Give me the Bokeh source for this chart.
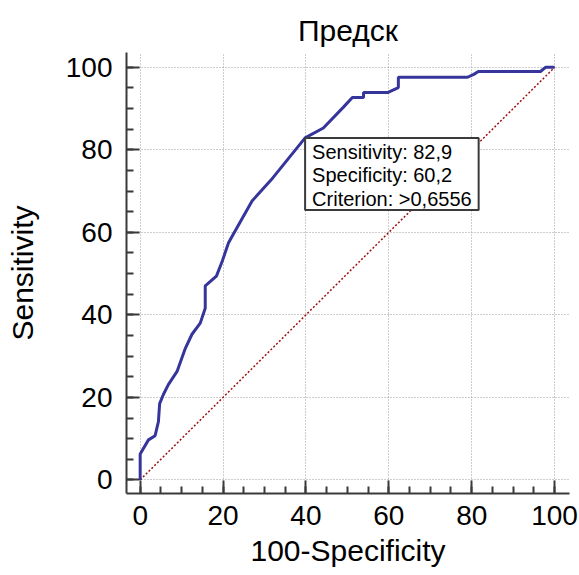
from bokeh.plotting import figure
from bokeh.models import Label, Range1d, FixedTicker
from bokeh.embed import file_html
from bokeh.resources import INLINE

# ROC curve (100-Specificity vs Sensitivity)
fpr = [0, 0, 2.0, 3.6, 4.4, 4.7, 5.6, 6.8, 8.9, 10.9, 12.5, 14.5, 15.7, 15.7,
       18.4, 19.8, 21.3, 22.5, 27.0, 32.0, 39.8, 44.2, 49.0, 51.2, 53.9, 53.9,
       59.7, 62.3, 62.3, 79.0, 80.5, 81.6, 96.6, 97.8, 100]
tpr = [0, 6.3, 9.7, 10.7, 14.1, 18.5, 20.7, 23.1, 26.3, 31.9, 35.3, 38.0, 41.6, 47.0,
       49.4, 53.0, 57.4, 59.6, 67.6, 73.2, 82.9, 85.3, 90.3, 92.7, 92.7, 93.9,
       93.9, 95.1, 97.6, 97.6, 98.3, 99.0, 99.0, 100, 100]
diag_x = [0, 100]
diag_y = [0, 100]
ticks = [0, 20, 40, 60, 80, 100]
crit_sens = 82.9
crit_spec = 60.2
crit_label = ">0,6556"
x_title = "100-Specificity"
y_title = "Sensitivity"

FONT = "Liberation Sans"
XMIN, XMAX = -3.3, 103.6

p = figure(width=579, height=575, output_backend="svg", toolbar_location=None,
           x_range=Range1d(XMIN, XMAX), y_range=Range1d(XMIN, XMAX),
           min_border_left=126, min_border_top=52, min_border_right=10, min_border_bottom=82)
p.outline_line_color = None
p.background_fill_color = "white"

p.title.text = "Предск"
p.title.align = "center"
p.title.vertical_align = "top"
p.title.text_font = FONT
p.title.text_font_size = "30px"
p.title.text_font_style = "normal"
p.title.text_color = "black"
p.title.standoff = 8

for ax in (p.xaxis[0], p.yaxis[0]):
    ax.ticker = FixedTicker(ticks=ticks, minor_ticks=list(range(0, 101, 5)))
    ax.axis_line_color = "#3a3a3a"
    ax.axis_line_width = 2
    ax.major_tick_line_color = "#3a3a3a"
    ax.major_tick_line_width = 2
    ax.minor_tick_line_color = "#3a3a3a"
    ax.minor_tick_line_width = 2
    ax.major_tick_in = 13
    ax.major_tick_out = 0
    ax.minor_tick_in = 7
    ax.minor_tick_out = 0
    ax.major_label_text_font = FONT
    ax.major_label_text_font_size = "28px"
    ax.major_label_text_color = "black"
    ax.axis_label_text_font = FONT
    ax.axis_label_text_font_size = "30px"
    ax.axis_label_text_font_style = "normal"
    ax.axis_label_text_color = "black"

p.xaxis.axis_label = x_title
p.yaxis.axis_label = y_title
p.xaxis.major_label_standoff = 12
p.yaxis.major_label_standoff = 14
p.xaxis.axis_label_standoff = 6
p.yaxis.axis_label_standoff = 24

for g in (p.xgrid[0], p.ygrid[0]):
    g.ticker = FixedTicker(ticks=ticks)
    g.grid_line_color = "#9a9a9a"
    g.grid_line_dash = "1 2"
    g.grid_line_width = 1

p.line(diag_x, diag_y, line_color="#a01010", line_width=1.5, line_dash="2 2")
p.line(fpr, tpr, line_color="#35359c", line_width=3)

lbl = Label(x=100 - crit_spec, y=crit_sens, anchor="top_left",
            text=f"Sensitivity: {crit_sens:.1f}".replace(".", ",") + "\n" +
                 f"Specificity: {crit_spec:.1f}".replace(".", ",") + "\n" +
                 f"Criterion: {crit_label}",
            text_font=FONT, text_font_size="20px", text_color="black",
            text_line_height=1.07,
            background_fill_color="white", border_line_color="#3a3a3a",
            border_line_width=2, padding=dict(left=7, right=7, top=3, bottom=0))
p.add_layout(lbl)

open("out.html", "w").write(file_html(p, INLINE))
